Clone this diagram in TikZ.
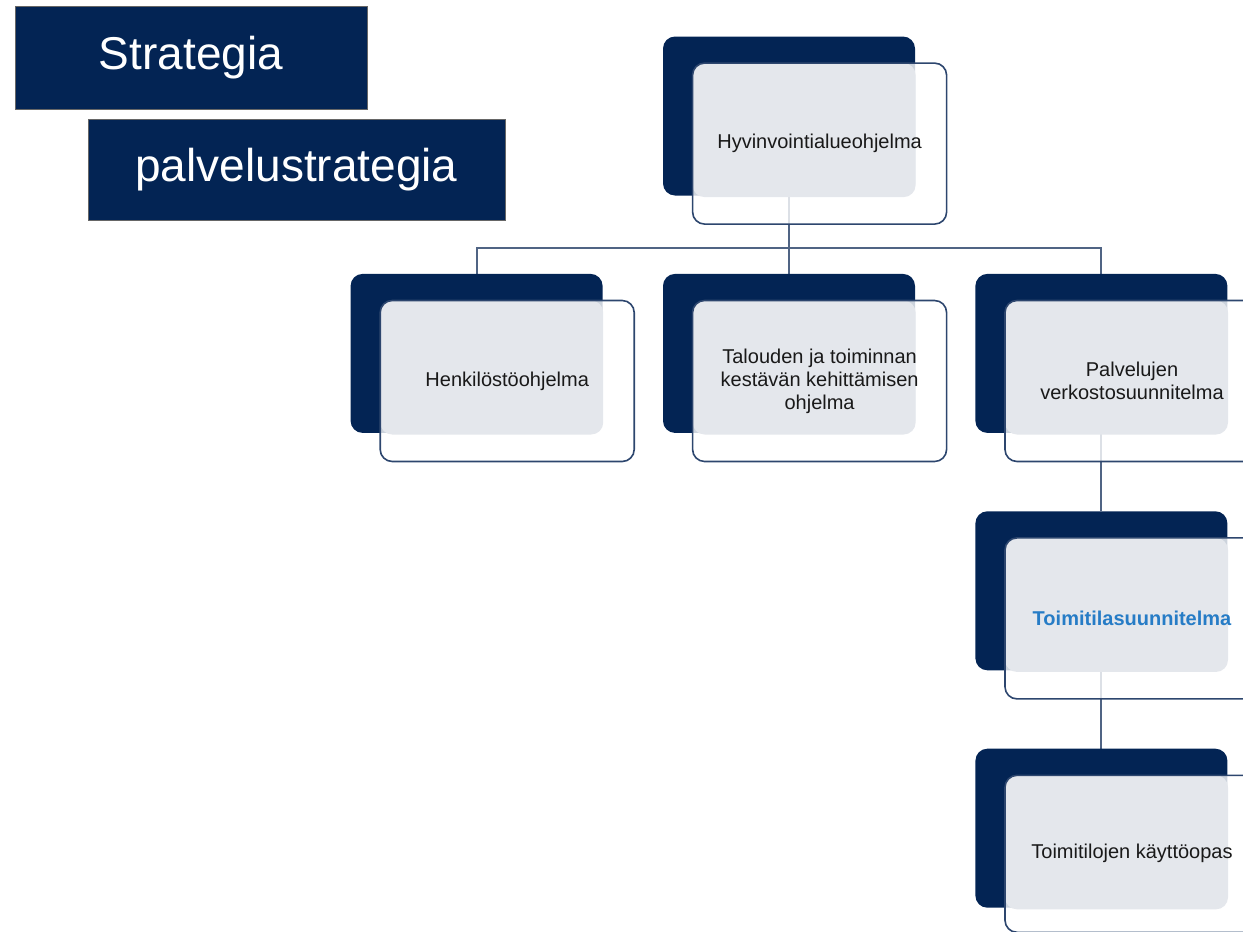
\documentclass[tikz,border=0pt]{standalone}
\usepackage{fontspec}
\setmainfont{Liberation Sans}
\usetikzlibrary{positioning,calc,backgrounds}
\definecolor{navy}{RGB}{3,36,84}
\definecolor{cardgray}{RGB}{228,231,236}
\definecolor{cardedge}{RGB}{45,70,110}
\definecolor{linkgray}{RGB}{80,100,132}
\definecolor{linkblue}{RGB}{38,124,198}

\begin{document}
\begin{tikzpicture}[
  x=1pt, y=-1pt,
  every node/.style={font=\fontsize{20}{23}\selectfont, text=black!90},
  title/.style={fill=navy, draw=black!60, thin, text=white, font=\fontsize{46}{50}\selectfont, inner sep=0pt},
  back/.style={fill=navy, rounded corners=12pt, minimum width=252pt, minimum height=159pt, inner sep=0pt},
  card/.style={draw=cardedge, line width=1.6pt, fill=white, fill opacity=0.8, text opacity=1, rounded corners=12pt,
    minimum width=254pt, minimum height=161pt, align=center, anchor=north west,
    path picture={\fill[cardgray, fill opacity=1, rounded corners=12pt] (path picture bounding box.north west) rectangle ++(223,134);}},
  link/.style={draw=linkgray, line width=2pt},
  node distance=78pt
]
\useasboundingbox (0,0) rectangle (1243,932);
\clip (0,0) rectangle (1243,932);

% titles
\node[title, minimum width=352pt, minimum height=103pt] (strat) at (191,57.5) {Strategia};
\node[title, minimum width=417pt, minimum height=101pt] (palv) at (296.5,169.5) {palvelustrategia};

% back boxes
\node[back] (hy) at (789,116) {};
\node[back, below=of hy] (ta) {};
\node[back, left=60pt of ta] (hk) {};
\node[back, right=60pt of ta] (pa) {};
\node[back, below=of pa] (to) {};
\node[back, below=of to] (tk) {};

% cards
\node[card] (hy-card) at ($(hy.north west)+(29,26)$) {Hyvinvointialueohjelma};
\node[card] (hk-card) at ($(hk.north west)+(29,26)$) {Henkilöstöohjelma};
\node[card] (ta-card) at ($(ta.north west)+(29,26)$) {Talouden ja toiminnan\\kestävän kehittämisen\\ohjelma};
\node[card] (pa-card) at ($(pa.north west)+(29,26)$) {Palvelujen\\verkostosuunnitelma};
\node[card] (to-card) at ($(to.north west)+(29,26)$) {\textcolor{linkblue}{\bfseries Toimitilasuunnitelma}};
\node[card, minimum height=157pt] (tk-card) at ($(tk.north west)+(29,26)$) {Toimitilojen käyttöopas};

% connectors
\begin{scope}[on background layer]
\coordinate (bus) at ($(hy.south)+(0,52)$);
\foreach \c in {hk, ta, pa}
  \draw[link] (hy.south) -- (bus) -| (\c.north);
\foreach \x/\y in {pa/to, to/tk}
  \draw[link] (\x) -- (\y);
\end{scope}
\end{tikzpicture}
\end{document}
